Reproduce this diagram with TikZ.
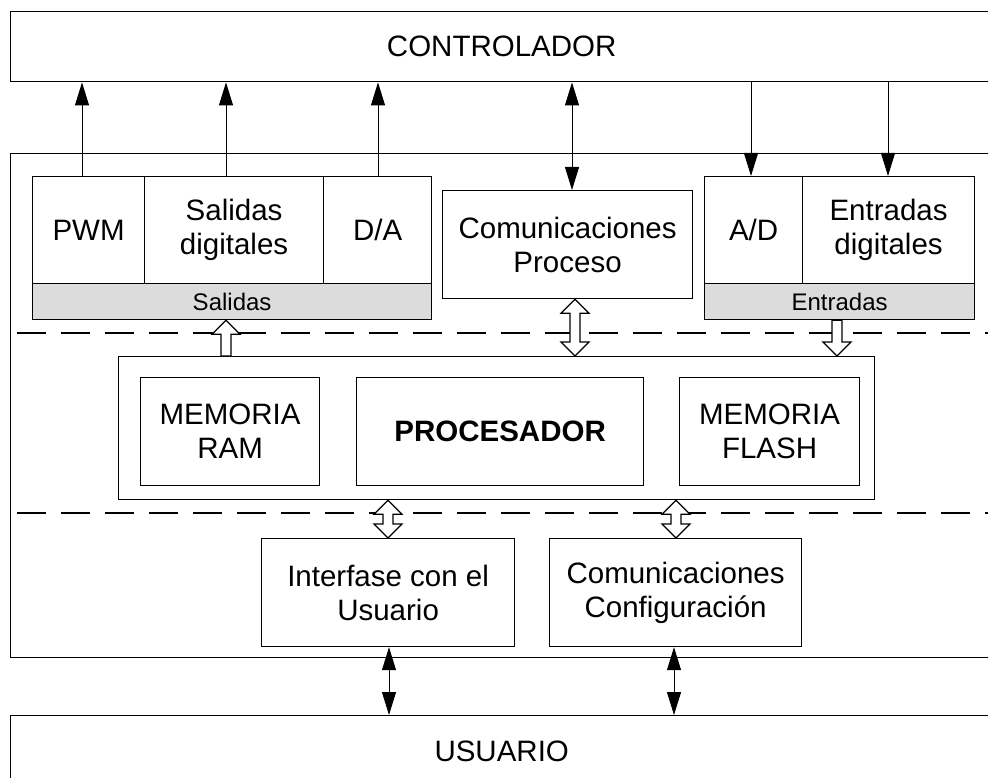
\documentclass[tikz,border=0pt]{standalone}
\usepackage{fontspec}
\setmainfont{Liberation Sans}
\usetikzlibrary{arrows.meta,calc}

\definecolor{bandgray}{RGB}{220,220,220}

% hollow (block) arrow dimensions
\newcommand\hshaft{5pt}
\newcommand\hhead{14pt}
\newcommand\hlen{14pt}

% single hollow arrow, vertical: #1 tail point, #2 tip point
\newcommand\hollowsingle[2]{%
  \draw[hollow] let \p1=(#1), \p2=(#2), \p3=($(#2)!\hlen!(#1)$) in
    (\x1-\hshaft,\y1) -- (\x1-\hshaft,\y3) -- (\x1-\hhead,\y3) -- (\x2,\y2)
    -- (\x1+\hhead,\y3) -- (\x1+\hshaft,\y3) -- (\x1+\hshaft,\y1) -- cycle;}

% double hollow arrow, vertical: #1 and #2 are the two tips
\newcommand\hollowdouble[2]{%
  \draw[hollow] let \p1=(#1), \p2=(#2), \p3=($(#2)!\hlen!(#1)$), \p4=($(#1)!\hlen!(#2)$) in
    (\x1,\y1) -- (\x1-\hhead,\y4) -- (\x1-\hshaft,\y4) -- (\x1-\hshaft,\y3)
    -- (\x1-\hhead,\y3) -- (\x2,\y2) -- (\x1+\hhead,\y3) -- (\x1+\hshaft,\y3)
    -- (\x1+\hshaft,\y4) -- (\x1+\hhead,\y4) -- cycle;}

\begin{document}
\begin{tikzpicture}[
  x=1pt, y=-1pt,
  frame/.style={draw, line width=1.4pt, fill=white, inner sep=0pt, anchor=north west,
    align=center, font=\fontsize{29.5}{34}\selectfont},
  cell/.style={frame, line width=1.2pt},
  band/.style={cell, fill=bandgray, font=\fontsize{24}{28}\selectfont},
  sig/.style={line width=1pt, -{Triangle[length=23pt,width=14pt]}},
  sigboth/.style={line width=1pt, {Triangle[length=23pt,width=14pt]}-{Triangle[length=23pt,width=14pt]}},
  dashline/.style={line width=1.6pt, dash pattern=on 29pt off 15pt},
  hollow/.style={draw, fill=white, line width=1.2pt, line join=miter},
]
\useasboundingbox[fill=white] (0,0) rectangle (988,778);
\clip (0,0) rectangle (988,778);

% outer blocks
\node[frame, minimum width=982, minimum height=70] (ctrl) at (10,11) {CONTROLADOR};
\node[frame, minimum width=1000, minimum height=504] (board) at (10,153) {};
\node[frame, minimum width=982, minimum height=72] (usr) at (10,715) {USUARIO};

% layer separators
\draw[dashline] (17,333) -- (1000,333);
\draw[dashline] (17,513) -- (1000,513);

% outputs group
\node[cell, minimum width=112, minimum height=107] (pwm) at (32,176) {PWM};
\node[cell, minimum width=179, minimum height=107] (sdig) at (144,176) {Salidas\\digitales};
\node[cell, minimum width=108, minimum height=107] (da) at (323,176) {D/A};
\node[band, minimum width=399, minimum height=36] (salband) at (32,283) {Salidas};

% process communications
\node[cell, minimum width=250, minimum height=108] (cp) at (442,190) {Comunicaciones\\Proceso};

% inputs group
\node[cell, minimum width=98, minimum height=107] (ad) at (704,176) {A/D};
\node[cell, minimum width=172, minimum height=107] (edig) at (802,176) {Entradas\\digitales};
\node[band, minimum width=270, minimum height=36] (entband) at (704,283) {Entradas};

% processor core
\node[cell, minimum width=756, minimum height=143] (core) at (118,356) {};
\node[cell, minimum width=179, minimum height=108] (ram) at (140,377) {MEMORIA\\RAM};
\node[cell, minimum width=287, minimum height=108] (cpu) at (356,377) {\bfseries PROCESADOR};
\node[cell, minimum width=180, minimum height=108] (flash) at (679,377) {MEMORIA\\FLASH};

% user side
\node[cell, minimum width=253, minimum height=108] (ifu) at (261,538) {Interfase con el\\Usuario};
\node[cell, minimum width=252, minimum height=108] (cc) at (549,538) {Comunicaciones\\Configuración};

% signals to and from the controller
\draw[sig] (82,0 |- pwm.north) -- (82,0 |- ctrl.south);
\draw[sig] (226,0 |- sdig.north) -- (226,0 |- ctrl.south);
\draw[sig] (378,0 |- da.north) -- (378,0 |- ctrl.south);
\draw[sigboth] (572,0 |- cp.north) -- (572,0 |- ctrl.south);
\draw[sig] (751,0 |- ctrl.south) -- (751,0 |- ad.north);
\draw[sig] (888,0 |- ctrl.south) -- (888,0 |- edig.north);

% signals to and from the user
\draw[sigboth] (389,0 |- ifu.south) -- (389,0 |- usr.north);
\draw[sigboth] (674,0 |- cc.south) -- (674,0 |- usr.north);

% internal buses
\coordinate (b1t) at (226,0 |- core.north);
\coordinate (b1h) at (226,0 |- salband.south);
\hollowsingle{b1t}{b1h}
\coordinate (b2a) at (575,0 |- cp.south);
\coordinate (b2b) at (575,0 |- core.north);
\hollowdouble{b2a}{b2b}
\coordinate (b3t) at (837,0 |- entband.south);
\coordinate (b3h) at (837,0 |- core.north);
\hollowsingle{b3t}{b3h}
\coordinate (b4a) at (388,0 |- core.south);
\coordinate (b4b) at (388,0 |- ifu.north);
\hollowdouble{b4a}{b4b}
\coordinate (b5a) at (676,0 |- core.south);
\coordinate (b5b) at (676,0 |- cc.north);
\hollowdouble{b5a}{b5b}
\end{tikzpicture}
\end{document}
